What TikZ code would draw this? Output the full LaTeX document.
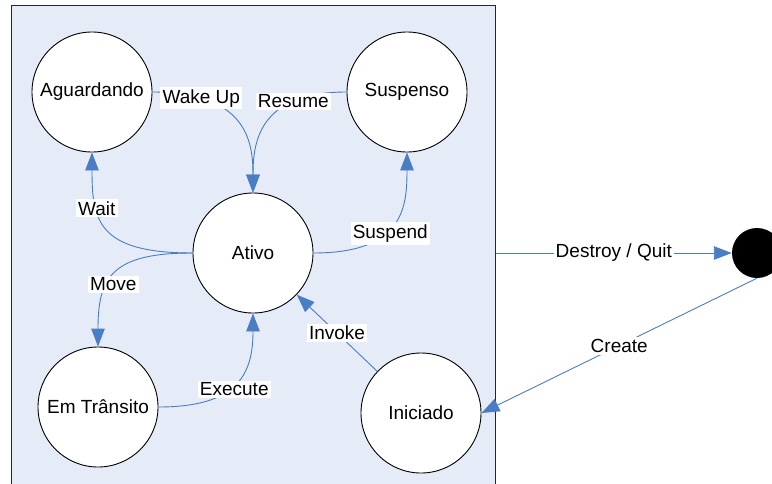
\documentclass[tikz,border=0pt]{standalone}
\usepackage{fontspec}
\setmainfont{Liberation Sans}
\usetikzlibrary{arrows.meta,calc}
\definecolor{linkblue}{HTML}{4A7DC4}
\definecolor{panelfill}{HTML}{E5ECF7}
\begin{document}
\begin{tikzpicture}[x=1pt,y=1pt,
  state/.style={circle, draw=black, line width=0.9pt, fill=white,
    minimum size=120pt, inner sep=0pt, font={\fontsize{19}{22}\selectfont}},
  link/.style={draw=linkblue, line width=0.9pt,
    -{Triangle[length=18pt,width=13.5pt,fill=linkblue]}},
  lbl/.style={fill=white, inner sep=2.2pt, text=black,
    font={\fontsize{19}{22}\selectfont}}]

\useasboundingbox (0,0) rectangle (772,-483);

% container of the active states
\node[draw=black!85, fill=panelfill, line width=0.8pt, minimum width=484pt,
  minimum height=490pt, inner sep=0pt, anchor=north west] (panel) at (11,-5) {};

% states
\node[state] (agu) at (92,-92)   {Aguardando};
\node[state] (sus) at (407,-92)  {Suspenso};
\node[state] (ati) at (253,-253) {Ativo};
\node[state] (emt) at (98,-407)  {Em Trânsito};
\node[state] (ini) at (421,-413) {Iniciado};
\node[circle, fill=black, minimum size=50pt, inner sep=0pt] (fim) at (757,-253) {};

% transitions
\draw[link] (ati.west) .. controls +(-95,0) and +(0,-68) .. (agu.south)
  node[lbl, pos=0.67] {Wait};
\draw[link] (ati.west) .. controls +(-80,0) and +(0,70) .. (emt.north)
  node[lbl, pos=0.6, xshift=5pt, yshift=-1pt] {Move};
\draw[link] (agu.east) .. controls +(95,0) and +(0,50) .. (ati.north)
  node[lbl, pos=0.21] {Wake Up};
\draw[link] (sus.west) .. controls +(-88,0) and +(0,50) .. (ati.north)
  node[lbl, pos=0.26] {Resume};
\draw[link] (ati.east) .. controls +(90,0) and +(0,-55) .. (sus.south)
  node[lbl, pos=0.40, xshift=5pt] {Suspend};
\draw[link] (emt.east) .. controls +(80,0) and +(0,-60) .. (ati.south)
  node[lbl, pos=0.46, xshift=2pt, yshift=-3pt] {Execute};
\draw[link] (ini) -- (ati) node[lbl, pos=0.5] {Invoke};
\draw[link] (panel.east |- ati.center) -- (fim.west)
  node[lbl, pos=0.5] {Destroy / Quit};
\draw[link] (fim.south) -- (ini.east) node[lbl, pos=0.5] {Create};
\end{tikzpicture}
\end{document}
